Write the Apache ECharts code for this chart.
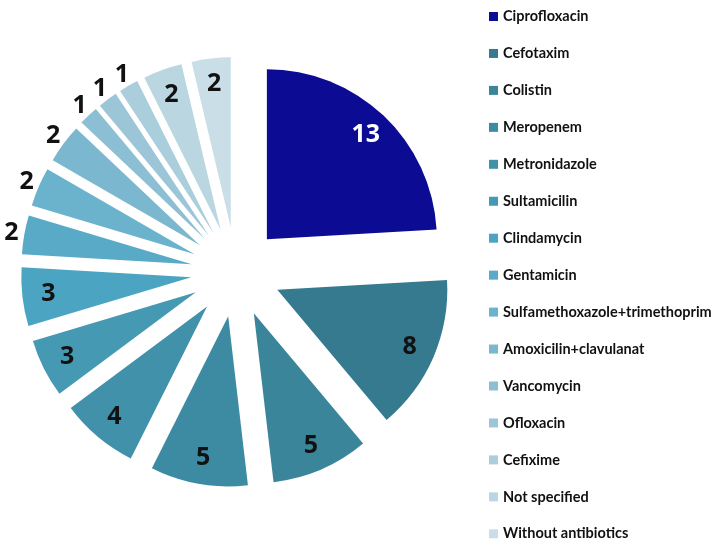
<!DOCTYPE html>
<html>
<head>
<meta charset="utf-8">
<script src="https://cdn.jsdelivr.net/npm/echarts@6/dist/echarts.min.js"></script>
<style>html,body{margin:0;padding:0;background:#fff}#c{width:712px;height:544px}</style>
</head>
<body>
<div id="c"></div>
<script>
const categories = ["Ciprofloxacin","Cefotaxim","Colistin","Meropenem","Metronidazole","Sultamicilin","Clindamycin","Gentamicin","Sulfamethoxazole+trimethoprim","Amoxicilin+clavulanat","Vancomycin","Ofloxacin","Cefixime","Not specified","Without antibiotics"];
const values = [13, 8, 5, 5, 4, 3, 3, 2, 2, 2, 1, 1, 1, 2, 2];
const colors = ["#0b0b94","#367a90","#3a8599","#3d8ba3","#4091a9","#4699b3","#4ba4c2","#58aac7","#6bb2cc","#7bb8cf","#8cbfd3","#9cc6d8","#abcedc","#b9d6e1","#c9dee7"];
const outsideLabel = [false,false,false,false,false,false,false,true,true,true,true,true,true,false,false];

const OFFSET = 45;
const CENTER = [236, 272];
const R = 170;

const font = "'Noto Sans', 'DejaVu Sans', sans-serif";

const mainData = categories.map((n, i) => ({
  name: n, value: values[i], selected: true,
  itemStyle: { color: colors[i] }
}));
function labelData(outside) {
  return categories.map((n, i) => ({
    name: n, value: values[i], selected: true,
    label: { show: outsideLabel[i] === outside, color: i === 0 ? '#ffffff' : '#111111' }
  }));
}
const ghost = {
  type: 'pie', center: CENTER, startAngle: 90, clockwise: true,
  selectedMode: 'multiple', selectedOffset: OFFSET, silent: true,
  itemStyle: { color: 'rgba(0,0,0,0)', borderWidth: 0 },
  labelLine: { show: false },
  emphasis: { disabled: true }, select: { itemStyle: { color: 'rgba(0,0,0,0)', borderWidth: 0 } },
  avoidLabelOverlap: false, animation: false
};

const chart = echarts.init(document.getElementById('c'), null, { renderer: 'canvas' });
chart.setOption({
  animation: false,
  color: colors,
  legend: {
    orient: 'vertical', left: 489, top: 9, padding: 0, height: 536,
    itemWidth: 9, itemHeight: 9, itemGap: 21.95, icon: 'rect',
    selectedMode: false,
    textStyle: { fontFamily: "Lato, 'Noto Sans', sans-serif", fontWeight: 'bold', fontSize: 14.5, color: '#111111' },
    data: categories
  },
  series: [
    {
      type: 'pie', name: 'main', center: CENTER, radius: [0, R], startAngle: 90, clockwise: true,
      selectedMode: 'multiple', selectedOffset: OFFSET,
      label: { show: false }, labelLine: { show: false },
      itemStyle: { borderWidth: 0 },
      emphasis: { disabled: true },
      select: { itemStyle: { borderWidth: 0 } },
      data: mainData
    },
    Object.assign({}, ghost, {
      name: 'labelsIn', radius: [112, R],
      label: { position: 'inside', formatter: '{c}', fontFamily: font, fontWeight: 'bold', fontSize: 25 },
      data: labelData(false)
    }),
    Object.assign({}, ghost, {
      name: 'labelsOut', radius: [172, 188],
      label: { position: 'inside', formatter: '{c}', fontFamily: font, fontWeight: 'bold', fontSize: 25 },
      data: labelData(true)
    })
  ]
});
</script>
</body>
</html>
